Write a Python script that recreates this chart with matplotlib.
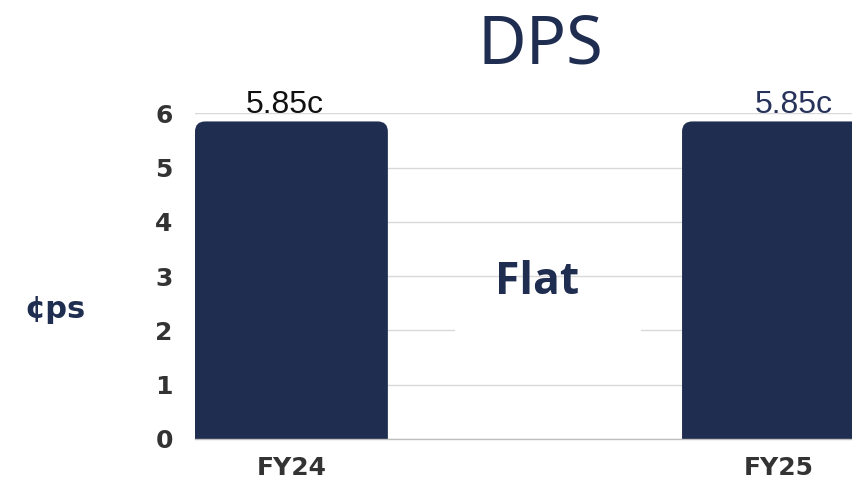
import numpy as np
import matplotlib
matplotlib.use('Agg')
import matplotlib.pyplot as plt
from matplotlib.patches import FancyBboxPatch, Rectangle

# data
periodos = ['FY24', 'FY25']
dps = [5.85, 5.85]
etiquetas = ['5.85c', '5.85c']
colores_etiqueta = ['#111111', '#26325a']
desfase_etiqueta = [-5, 11]   # points, as in the original

navy = '#1f2d50'

fig = plt.figure(figsize=(8.53, 4.82), dpi=100)
ax = fig.add_axes([195/853, 43/482, 658/853, (439-113.3)/482])

x = np.arange(len(periodos))
barras = ax.bar(x, dps, width=0.396, color=navy, zorder=2)

ax.set_xlim(-0.198, 1.153)
ax.set_ylim(0, 6)

# swap the plain bars for bars with rounded tops
aspecto = (6 / (439 - 113.3)) / (1.351 / 658)
for b in barras:
    b.set_visible(False)
    p = FancyBboxPatch((b.get_x(), -0.5), b.get_width(), b.get_height() + 0.5,
                       boxstyle='round,pad=0,rounding_size=0.021',
                       mutation_aspect=aspecto, fc=navy, ec='none',
                       zorder=2, clip_on=True)
    ax.add_patch(p)

for i, (v, t) in enumerate(zip(dps, etiquetas)):
    ax.annotate(t, (x[i], v), xytext=(desfase_etiqueta[i], 12),
                textcoords='offset points', ha='center', va='center',
                fontsize=23, family='Liberation Sans',
                color=colores_etiqueta[i], annotation_clip=False, zorder=4)

ax.set_yticks(range(0, 7))
ax.set_xticks(x)
ax.set_xticklabels(periodos)
for lab in ax.get_xticklabels() + ax.get_yticklabels():
    lab.set_fontsize(18)
    lab.set_fontweight('bold')
    lab.set_color('#333333')
ax.tick_params(axis='y', length=0, pad=16)
ax.tick_params(axis='x', length=0, pad=12)

ax.grid(axis='y', color='#d9d9d9', linewidth=1)
ax.set_axisbelow(True)
for s in ['left', 'right', 'top']:
    ax.spines[s].set_visible(False)
ax.spines['bottom'].set_color('#bfbfbf')
ax.spines['bottom'].set_linewidth(1)

# white patch behind the Flat callout
ax.add_patch(Rectangle((0.336, 1.6), 0.382, 0.8, fc='white', ec='none', zorder=1))
ax.text(0.505, 2.88, 'Flat', ha='center', va='center', fontsize=32,
        fontweight='bold', family='Open Sans', color=navy, zorder=3)

fig.text(540/853, 1 - 45/482, 'DPS', ha='center', va='center', fontsize=48,
         family='Noto Sans', color=navy)
fig.text(55/853, 1 - 310/482, '¢ps', ha='center', va='center', fontsize=22,
         fontweight='bold', color=navy)

fig.savefig('out.png', dpi=100)
